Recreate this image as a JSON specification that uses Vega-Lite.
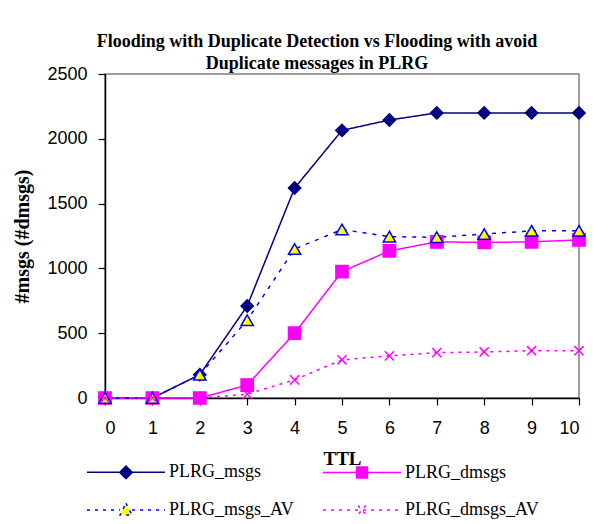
{
  "$schema": "https://vega.github.io/schema/vega-lite/v6.json",
  "width": 474,
  "height": 324,
  "autosize": {"type": "none"},
  "padding": {"left": 105, "top": 74, "right": 35, "bottom": 126},
  "background": "white",
  "config": {
    "view": {"stroke": "#808080", "strokeWidth": 1.5},
    "axis": {"grid": false, "domainColor": "black", "tickColor": "black", "labelColor": "black", "titleColor": "black", "domainWidth": 1.5, "tickWidth": 1.2},
    "legend": {"orient": "none", "legendX": 5, "legendY": 382, "direction": "horizontal", "columns": 2, "padding": 0, "symbolSize": 900, "symbolStrokeWidth": 1.5, "labelFont": "Liberation Serif", "labelFontSize": 18, "labelColor": "black", "labelOffset": 27, "columnPadding": 26, "rowPadding": 12}
  },
  "title": {
    "text": ["Flooding with Duplicate Detection vs Flooding with avoid", "Duplicate messages in PLRG"],
    "font": "Liberation Serif",
    "fontSize": 18,
    "fontWeight": "bold",
    "lineHeight": 22,
    "anchor": "middle",
    "frame": "group",
    "dx": -25,
    "offset": -8,
    "color": "black"
  },
  "data": {
    "values": [
      {"series": "PLRG_msgs", "ttl": 0, "value": 0},
      {"series": "PLRG_msgs", "ttl": 1, "value": 0},
      {"series": "PLRG_msgs", "ttl": 2, "value": 180},
      {"series": "PLRG_msgs", "ttl": 3, "value": 710},
      {"series": "PLRG_msgs", "ttl": 4, "value": 1620},
      {"series": "PLRG_msgs", "ttl": 5, "value": 2065},
      {"series": "PLRG_msgs", "ttl": 6, "value": 2145},
      {"series": "PLRG_msgs", "ttl": 7, "value": 2200},
      {"series": "PLRG_msgs", "ttl": 8, "value": 2200},
      {"series": "PLRG_msgs", "ttl": 9, "value": 2200},
      {"series": "PLRG_msgs", "ttl": 10, "value": 2200},
      {"series": "PLRG_dmsgs", "ttl": 0, "value": 0},
      {"series": "PLRG_dmsgs", "ttl": 1, "value": 0},
      {"series": "PLRG_dmsgs", "ttl": 2, "value": 0},
      {"series": "PLRG_dmsgs", "ttl": 3, "value": 100},
      {"series": "PLRG_dmsgs", "ttl": 4, "value": 500},
      {"series": "PLRG_dmsgs", "ttl": 5, "value": 975},
      {"series": "PLRG_dmsgs", "ttl": 6, "value": 1135},
      {"series": "PLRG_dmsgs", "ttl": 7, "value": 1205},
      {"series": "PLRG_dmsgs", "ttl": 8, "value": 1200},
      {"series": "PLRG_dmsgs", "ttl": 9, "value": 1205},
      {"series": "PLRG_dmsgs", "ttl": 10, "value": 1220},
      {"series": "PLRG_msgs_AV", "ttl": 0, "value": 0},
      {"series": "PLRG_msgs_AV", "ttl": 1, "value": 0},
      {"series": "PLRG_msgs_AV", "ttl": 2, "value": 180},
      {"series": "PLRG_msgs_AV", "ttl": 3, "value": 600},
      {"series": "PLRG_msgs_AV", "ttl": 4, "value": 1150},
      {"series": "PLRG_msgs_AV", "ttl": 5, "value": 1300},
      {"series": "PLRG_msgs_AV", "ttl": 6, "value": 1245},
      {"series": "PLRG_msgs_AV", "ttl": 7, "value": 1240},
      {"series": "PLRG_msgs_AV", "ttl": 8, "value": 1265},
      {"series": "PLRG_msgs_AV", "ttl": 9, "value": 1290},
      {"series": "PLRG_msgs_AV", "ttl": 10, "value": 1290},
      {"series": "PLRG_dmsgs_AV", "ttl": 0, "value": 0},
      {"series": "PLRG_dmsgs_AV", "ttl": 1, "value": 0},
      {"series": "PLRG_dmsgs_AV", "ttl": 2, "value": 0},
      {"series": "PLRG_dmsgs_AV", "ttl": 3, "value": 30},
      {"series": "PLRG_dmsgs_AV", "ttl": 4, "value": 140},
      {"series": "PLRG_dmsgs_AV", "ttl": 5, "value": 295},
      {"series": "PLRG_dmsgs_AV", "ttl": 6, "value": 325},
      {"series": "PLRG_dmsgs_AV", "ttl": 7, "value": 350},
      {"series": "PLRG_dmsgs_AV", "ttl": 8, "value": 355},
      {"series": "PLRG_dmsgs_AV", "ttl": 9, "value": 365},
      {"series": "PLRG_dmsgs_AV", "ttl": 10, "value": 365}
    ]
  },
  "encoding": {
    "x": {
      "field": "ttl", "type": "quantitative",
      "scale": {"domain": [0, 10], "nice": false, "zero": false},
      "axis": {"title": "TTL", "values": [0,1,2,3,4,5,6,7,8,9,10], "format": "d", "tickSize": 7, "labelFont": "Liberation Sans", "labelFontSize": 18, "labelPadding": 14, "titleFont": "Liberation Serif", "titleFontSize": 19, "titleFontWeight": "bold", "titlePadding": 12}
    },
    "y": {
      "field": "value", "type": "quantitative",
      "scale": {"domain": [0, 2500], "nice": false},
      "axis": {"title": "#msgs (#dmsgs)", "values": [0,500,1000,1500,2000,2500], "format": "d", "tickSize": 7, "labelFont": "Liberation Sans", "labelFontSize": 18, "labelPadding": 11, "titleFont": "Liberation Serif", "titleFontSize": 20, "titleFontWeight": "bold", "titlePadding": 14}
    }
  },
  "layer": [
    {
      "mark": {"type": "line", "strokeWidth": 1.5},
      "encoding": {
        "stroke": {
          "field": "series", "type": "nominal",
          "scale": {"domain": ["PLRG_msgs", "PLRG_dmsgs", "PLRG_msgs_AV", "PLRG_dmsgs_AV"], "range": ["#000080", "#FF00FF", "#0000FF", "#FF00FF"]},
          "legend": null
        },
        "strokeDash": {
          "field": "series", "type": "nominal",
          "scale": {"domain": ["PLRG_msgs", "PLRG_dmsgs", "PLRG_msgs_AV", "PLRG_dmsgs_AV"], "range": [[1, 0], [1, 0], [4, 6], [3, 5]]},
          "legend": null
        }
      }
    },
    {
      "mark": {"type": "point", "filled": false, "opacity": 1, "strokeWidth": 1.5, "size": 150},
      "encoding": {
        "stroke": {
          "field": "series", "type": "nominal",
          "scale": {"domain": ["PLRG_msgs", "PLRG_dmsgs", "PLRG_msgs_AV", "PLRG_dmsgs_AV"], "range": ["#000080", "#FF00FF", "#0000FF", "#FF00FF"]},
          "legend": null
        },
        "fill": {
          "field": "series", "type": "nominal",
          "scale": {"domain": ["PLRG_msgs", "PLRG_dmsgs", "PLRG_msgs_AV", "PLRG_dmsgs_AV"], "range": ["#000080", "#FF00FF", "#FFFF00", "transparent"]},
          "legend": null
        },
        "shape": {
          "field": "series", "type": "nominal",
          "scale": {"domain": ["PLRG_msgs", "PLRG_dmsgs", "PLRG_msgs_AV", "PLRG_dmsgs_AV"], "range": ["diamond", "square", "triangle-up", "M-0.75,-0.75L0.75,0.75M0.75,-0.75L-0.75,0.75"]},
          "legend": null
        }
      }
    },
    {
      "transform": [{"filter": "datum.ttl < 0"}],
      "mark": {"type": "point", "filled": false, "opacity": 1, "strokeWidth": 1.5},
      "encoding": {
        "stroke": {
          "field": "series", "type": "nominal",
          "scale": {"domain": ["PLRG_msgs", "PLRG_dmsgs", "PLRG_msgs_AV", "PLRG_dmsgs_AV"], "range": ["#000080", "#FF00FF", "#0000FF", "#FF00FF"]},
          "legend": {"title": null}
        },
        "fill": {
          "field": "series", "type": "nominal",
          "scale": {"domain": ["PLRG_msgs", "PLRG_dmsgs", "PLRG_msgs_AV", "PLRG_dmsgs_AV"], "range": ["#000080", "#FF00FF", "#FFFF00", "transparent"]},
          "legend": {"title": null}
        },
        "shape": {
          "field": "series", "type": "nominal",
          "scale": {"domain": ["PLRG_msgs", "PLRG_dmsgs", "PLRG_msgs_AV", "PLRG_dmsgs_AV"], "range": ["M-2.6,0L-0.4,0M0.4,0L2.6,0M0,-0.42L0.42,0L0,0.42L-0.42,0Z", "M-2.6,0L-0.36,0M0.36,0L2.6,0M-0.36,-0.36L0.36,-0.36L0.36,0.36L-0.36,0.36Z", "M-2.6,0L-0.4,0M0.4,0L2.6,0M0,-0.45L0.4,0.33L-0.4,0.33Z", "M-2.6,0L2.6,0M-0.27,-0.3L0.27,0.3M0.27,-0.3L-0.27,0.3"]},
          "legend": {"title": null}
        },
        "strokeDash": {
          "field": "series", "type": "nominal",
          "scale": {"domain": ["PLRG_msgs", "PLRG_dmsgs", "PLRG_msgs_AV", "PLRG_dmsgs_AV"], "range": [[1, 0], [1, 0], [3, 5], [3, 5]]},
          "legend": {"title": null}
        }
      }
    }
  ],
  "resolve": {"scale": {"stroke": "independent", "fill": "independent", "shape": "independent", "strokeDash": "independent"}}
}
